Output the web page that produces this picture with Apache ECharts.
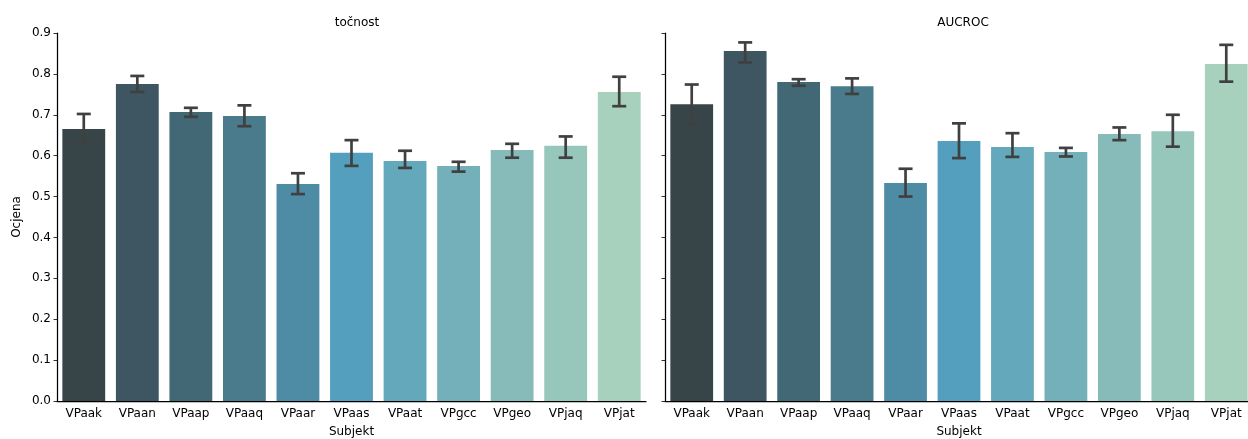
<!DOCTYPE html>
<html><head><meta charset="utf-8">
<script src="https://cdn.jsdelivr.net/npm/echarts@6/dist/echarts.min.js"></script>
<style>html,body{margin:0;padding:0;background:#fff}#c{width:1248px;height:439px}</style>
</head><body><div id="c"></div>
<script>
const categories = ['VPaak','VPaan','VPaap','VPaaq','VPaar','VPaas','VPaat','VPgcc','VPgeo','VPjaq','VPjat'];
const accMean = [0.665,0.775,0.707,0.697,0.531,0.607,0.587,0.575,0.614,0.624,0.756];
const accLow  = [0.631,0.756,0.695,0.672,0.506,0.575,0.570,0.561,0.595,0.595,0.721];
const accHigh = [0.702,0.795,0.717,0.723,0.557,0.638,0.612,0.585,0.629,0.647,0.793];
const aucMean = [0.726,0.856,0.780,0.770,0.533,0.636,0.621,0.609,0.653,0.660,0.824];
const aucLow  = [0.679,0.828,0.771,0.751,0.500,0.594,0.597,0.598,0.638,0.622,0.781];
const aucHigh = [0.774,0.877,0.787,0.789,0.568,0.679,0.655,0.619,0.669,0.700,0.871];
const yTicks = [0.0,0.1,0.2,0.3,0.4,0.5,0.6,0.7,0.8,0.9];
const palette = ['#374549','#3e5661','#436875','#497b8c','#4e8ca6','#549fbd','#63a8bb','#74b0b9','#86bbba','#97c6bb','#a7d1bc'];
const titles = ['točnost','AUCROC'];

const font = 'DejaVu Sans';
const chart = echarts.init(document.getElementById('c'), null, {renderer:'canvas'});

function errSeries(idx, lows, highs){
  return {
    type:'custom', xAxisIndex:idx, yAxisIndex:idx, z:5,
    data: categories.map((c,i)=>[i,lows[i],highs[i]]),
    renderItem:(params, api)=>{
      const lo = api.coord([api.value(0), api.value(1)]);
      const hi = api.coord([api.value(0), api.value(2)]);
      const x = lo[0], w = 7;
      const st = {stroke:'#404040', lineWidth:2.7};
      return {type:'group', children:[
        {type:'line', shape:{x1:x,y1:lo[1],x2:x,y2:hi[1]}, style:st},
        {type:'line', shape:{x1:x-w,y1:lo[1],x2:x+w,y2:lo[1]}, style:st},
        {type:'line', shape:{x1:x-w,y1:hi[1],x2:x+w,y2:hi[1]}, style:st}
      ]};
    }
  };
}
function barSeries(idx, vals){
  return {
    type:'bar', xAxisIndex:idx, yAxisIndex:idx, barCategoryGap:'20%',
    data: vals.map((v,i)=>({value:v, itemStyle:{color:palette[i]}})),
    emphasis:{disabled:true}
  };
}
function xAx(idx){
  return {
    type:'category', gridIndex:idx, data:categories,
    axisLine:{lineStyle:{color:'#000', width:1.25}},
    axisTick:{alignWithLabel:true, length:3.5, lineStyle:{color:'#000', width:0.8}},
    axisLabel:{color:'#000', fontFamily:font, fontSize:12, margin:7},
    name:'Subjekt', nameLocation:'middle', nameGap:25,
    nameTextStyle:{color:'#000', fontFamily:font, fontSize:12}
  };
}
function yAx(idx){
  return {
    type:'value', gridIndex:idx, min:0, max:0.9, interval:0.1,
    axisLine:{show:true, lineStyle:{color:'#000', width:1.25}},
    axisTick:{show:true, length:3.5, lineStyle:{color:'#000', width:0.8}},
    splitLine:{show:false},
    axisLabel:{show: idx===0, color:'#000', fontFamily:font, fontSize:12, margin:6,
      formatter:(v)=>v.toFixed(1)},
    name: idx===0 ? 'Ocjena' : '', nameLocation:'middle', nameGap:34, nameRotate:90,
    nameTextStyle:{color:'#000', fontFamily:font, fontSize:12}
  };
}
chart.setOption({
  animation:false,
  title: titles.map((t,i)=>({
    text:t, left: i===0 ? 352 : 958, top:12, textAlign:'center',
    textStyle:{fontFamily:font, fontSize:12, fontWeight:'normal', color:'#000'}
  })),
  grid:[
    {left:57, top:33, width:589, height:368, containLabel:false, outerBoundsMode:'none'},
    {left:665, top:33, width:588, height:368, containLabel:false, outerBoundsMode:'none'}
  ],
  xAxis:[xAx(0), xAx(1)],
  yAxis:[yAx(0), yAx(1)],
  series:[
    barSeries(0, accMean), errSeries(0, accLow, accHigh),
    barSeries(1, aucMean), errSeries(1, aucLow, aucHigh)
  ]
});
</script></body></html>
